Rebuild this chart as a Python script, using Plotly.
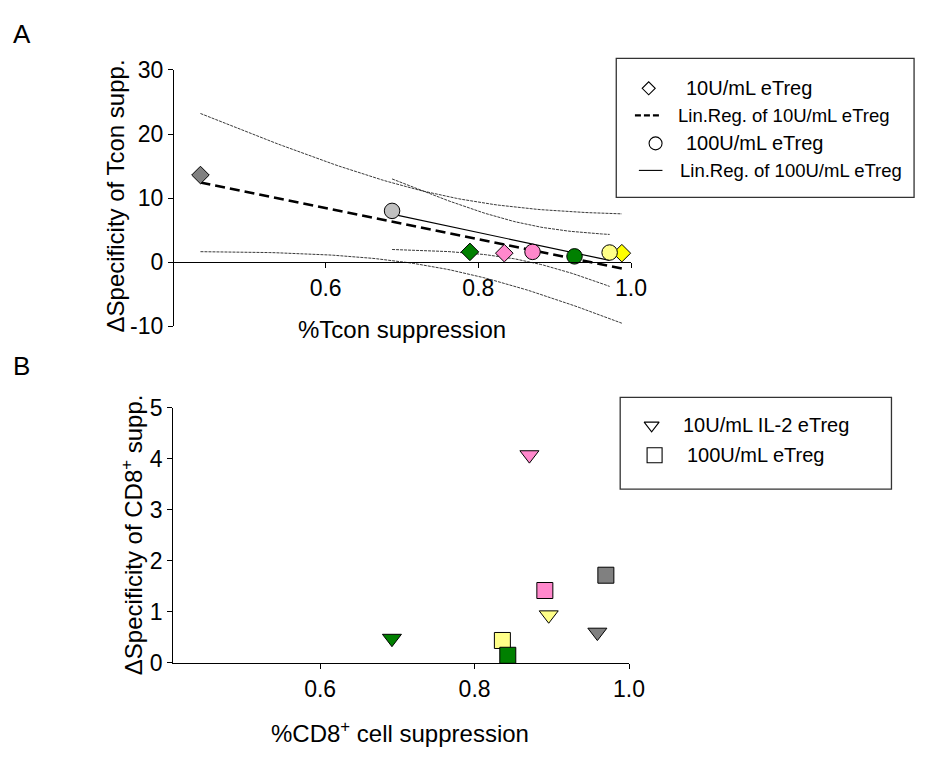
import numpy as np
import plotly.graph_objects as go

W, H = 934, 758
FONT = "Liberation Sans, Arial, Helvetica, sans-serif"

# ---- Panel A: Tcon suppression vs. change in specificity ----
a_diamond_x = [0.436, 0.789, 0.834, 0.988]
a_diamond_y = [13.6, 1.6, 1.4, 1.4]
a_diamond_colors = ["#808080", "#008000", "#ff88cc", "#ffff00"]

a_circle_x = [0.687, 0.871, 0.926, 0.972]
a_circle_y = [8.0, 1.6, 0.9, 1.5]
a_circle_colors = ["#c0c0c0", "#ff88cc", "#008000", "#ffff88"]

a_xticks = [0.6, 0.8, 1.0]
a_xticklabels = ["0.6", "0.8", "1.0"]
a_yticks = [-10, 0, 10, 20, 30]
a_yticklabels = ["-10", "0", "10", "20", "30"]

# ---- Panel B: CD8+ suppression vs. change in specificity ----
b_tri_x = [0.693, 0.871, 0.896, 0.959]
b_tri_y = [0.48, 4.08, 0.94, 0.60]
b_tri_colors = ["#008000", "#ff88cc", "#ffff88", "#808080"]

b_sq_x = [0.836, 0.843, 0.891, 0.970]
b_sq_y = [0.44, 0.15, 1.42, 1.72]
b_sq_colors = ["#ffff88", "#008000", "#ff88cc", "#808080"]

b_xticks = [0.6, 0.8, 1.0]
b_xticklabels = ["0.6", "0.8", "1.0"]
b_yticks = [0, 1, 2, 3, 4, 5]

T_CRIT = 4.303  # two-sided 95 % t value, df = 2


def fit_with_band(x, y, n=80):
    """Least-squares line with 95 % confidence band of the mean."""
    x = np.asarray(x, float)
    y = np.asarray(y, float)
    slope, icpt = np.polyfit(x, y, 1)
    xs = np.linspace(x.min(), x.max(), n)
    yhat = icpt + slope * xs
    resid = y - (icpt + slope * x)
    s = np.sqrt(np.sum(resid ** 2) / (len(x) - 2))
    sxx = np.sum((x - x.mean()) ** 2)
    se = s * np.sqrt(1.0 / len(x) + (xs - x.mean()) ** 2 / sxx)
    return xs, yhat, yhat - T_CRIT * se, yhat + T_CRIT * se


def px_x(v):
    return v / W


def px_y(v):
    return 1 - v / H


fig = go.Figure()

band_line = dict(color="#222222", width=0.9, dash="3px,1px")
for xs_, ys_, style in [
    (a_diamond_x, a_diamond_y, dict(color="black", width=2.6, dash="10px,5px")),
    (a_circle_x, a_circle_y, dict(color="black", width=1.2)),
]:
    xs, yhat, lo, hi = fit_with_band(xs_, ys_)
    for band in (lo, hi):
        fig.add_trace(go.Scatter(x=xs, y=band, mode="lines", line=band_line,
                                 xaxis="x", yaxis="y", hoverinfo="skip", cliponaxis=False))
    fig.add_trace(go.Scatter(x=xs, y=yhat, mode="lines", line=style,
                             xaxis="x", yaxis="y", hoverinfo="skip", cliponaxis=False))

fig.add_trace(go.Scatter(
    x=a_diamond_x, y=a_diamond_y, mode="markers", xaxis="x", yaxis="y", cliponaxis=False,
    marker=dict(symbol="diamond", size=13.5, color=a_diamond_colors,
                line=dict(color="black", width=1))))
fig.add_trace(go.Scatter(
    x=a_circle_x, y=a_circle_y, mode="markers", xaxis="x", yaxis="y", cliponaxis=False,
    marker=dict(symbol="circle", size=15.5, color=a_circle_colors,
                line=dict(color="black", width=1))))

fig.add_trace(go.Scatter(
    x=b_tri_x, y=b_tri_y, mode="markers", xaxis="x2", yaxis="y2", cliponaxis=False,
    marker=dict(symbol="triangle-down", size=16.5, color=b_tri_colors,
                line=dict(color="black", width=1))))
fig.add_trace(go.Scatter(
    x=b_sq_x, y=b_sq_y, mode="markers", xaxis="x2", yaxis="y2", cliponaxis=False,
    marker=dict(symbol="square", size=16, color=b_sq_colors,
                line=dict(color="black", width=1))))

# legend symbols, drawn on a hidden pixel-space overlay
legend_syms = [
    ("diamond", 10, 660, 78),
    ("circle", 13, 667, 135),
    ("triangle-down", 13, 663, 427),
    ("square", 15, 666, 458),
]
for sym, size, lx, ly in legend_syms:
    fig.add_trace(go.Scatter(
        x=[lx], y=[ly], mode="markers", xaxis="x3", yaxis="y3", hoverinfo="skip",
        marker=dict(symbol=sym, size=size, color="white", line=dict(color="black", width=1.1))))

axis_font = dict(family=FONT, size=23, color="black")
common = dict(showline=True, linecolor="black", linewidth=1.3, ticks="outside",
              ticklen=5, tickwidth=1.3, tickcolor="black", showgrid=False,
              zeroline=False, tickfont=axis_font, fixedrange=True)

yA_dom = [px_y(324.3), px_y(59)]
xA_pos = yA_dom[0] + (0 - (-10)) / 40 * (yA_dom[1] - yA_dom[0])

layout_axes = dict(
    xaxis=dict(domain=[px_x(176), px_x(642)], range=[0.4, 1.0], anchor="free",
               position=xA_pos, tickvals=a_xticks, ticktext=a_xticklabels, **common),
    yaxis=dict(domain=yA_dom, range=[-10, 30], anchor="free", position=px_x(176),
               tickvals=a_yticks, ticktext=a_yticklabels, **common),
    xaxis2=dict(domain=[px_x(176.4), px_x(640)], range=[0.41, 1.0], anchor="y2",
                tickvals=b_xticks, ticktext=b_xticklabels, **common),
    yaxis2=dict(domain=[px_y(673), px_y(409)], range=[0, 5], anchor="x2",
                tickvals=b_yticks, **common),
    xaxis3=dict(domain=[0, 1], range=[0, W], visible=False, anchor="y3", fixedrange=True),
    yaxis3=dict(domain=[0, 1], range=[H, 0], visible=False, anchor="x3", fixedrange=True),
)

shapes = [
    dict(type="rect", xref="x3", yref="y3", x0=627, x1=930, y0=47, y1=191,
         line=dict(color="#333333", width=1.3)),
    dict(type="line", xref="x3", yref="y3", x0=646, x1=671, y0=106, y1=106,
         line=dict(color="black", width=2.4, dash="6px,3px")),
    dict(type="line", xref="x3", yref="y3", x0=650, x1=674, y0=163, y1=163,
         line=dict(color="black", width=1.1)),
    dict(type="rect", xref="x3", yref="y3", x0=631, x1=907, y0=398, y1=493,
         line=dict(color="#333333", width=1.3)),
]


def ann(text, x, y, size, xanchor="left", angle=0):
    return dict(text=text, x=x, y=y, xref="x3", yref="y3", showarrow=False,
                xanchor=xanchor, yanchor="middle", textangle=angle,
                font=dict(family=FONT, size=size, color="black"))


annotations = [
    ann("A", 22, 22, 26, "center"),
    ann("B", 22, 366, 26, "center"),
    ann("ΔSpecificity of Tcon supp.", 118, 189, 24, "center", -90),
    ann("%Tcon suppression", 409, 328, 24, "center"),
    ann("ΔSpecificity of CD8<sup>+</sup> supp.", 135, 540, 24, "center", -90),
    ann("%CD8<sup>+</sup> cell suppression", 407, 745, 24, "center"),
    ann("10U/mL eTreg", 696, 78, 20),
    ann("Lin.Reg. of 10U/mL eTreg", 688, 106, 18.5),
    ann("100U/mL eTreg", 696, 135, 20),
    ann("Lin.Reg. of 100U/mL eTreg", 690, 163, 18.5),
    ann("10U/mL IL-2 eTreg", 693, 427, 20),
    ann("100U/mL eTreg", 697, 458, 20),
]

fig.update_layout(
    width=W, height=H, margin=dict(l=0, r=0, t=0, b=0),
    paper_bgcolor="white", plot_bgcolor="rgba(0,0,0,0)",
    showlegend=False, font=dict(family=FONT, color="black"),
    shapes=shapes, annotations=annotations, **layout_axes,
)

fig.write_html("out.html")
